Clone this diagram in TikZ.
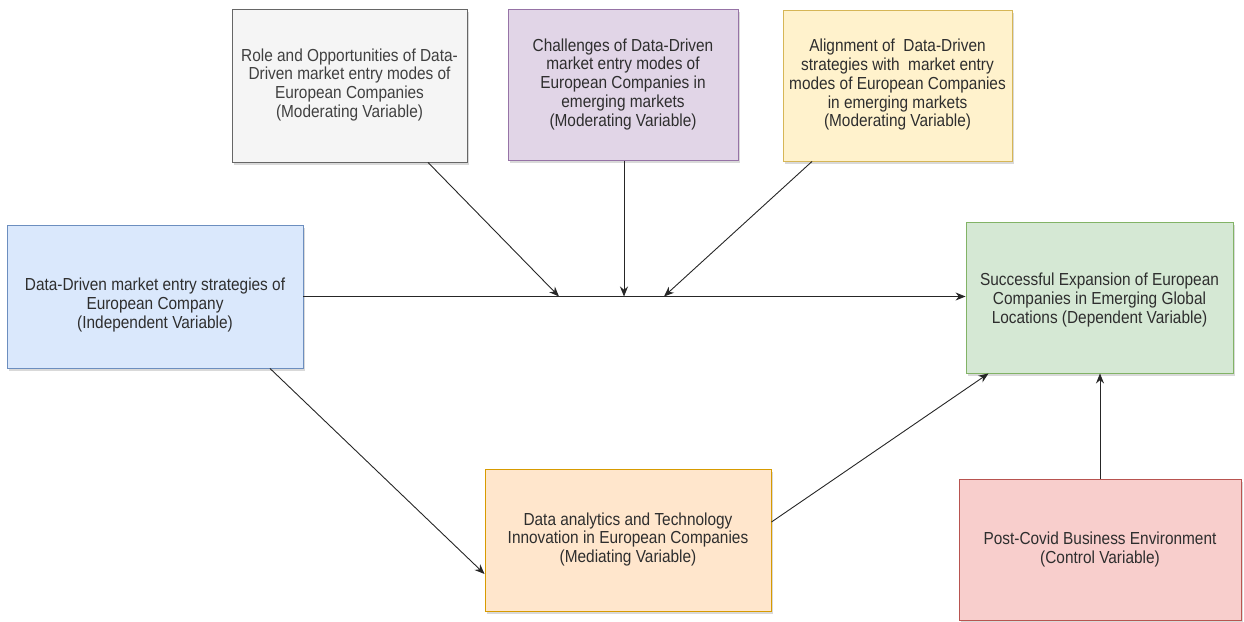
\documentclass[tikz,border=0pt]{standalone}
\usepackage{fontspec}
\setmainfont{Liberation Sans}
\usetikzlibrary{arrows.meta,shadows}

\definecolor{greyfill}{HTML}{F5F5F5}\definecolor{greyline}{HTML}{666666}
\definecolor{purplefill}{HTML}{E1D5E7}\definecolor{purpleline}{HTML}{9673A6}
\definecolor{yellowfill}{HTML}{FFF2CC}\definecolor{yellowline}{HTML}{D6B656}
\definecolor{bluefill}{HTML}{DAE8FC}\definecolor{blueline}{HTML}{6C8EBF}
\definecolor{greenfill}{HTML}{D5E8D4}\definecolor{greenline}{HTML}{82B366}
\definecolor{orangefill}{HTML}{FFE6CC}\definecolor{orangeline}{HTML}{D79B00}
\definecolor{redfill}{HTML}{F8CECC}\definecolor{redline}{HTML}{B85450}
\definecolor{txt}{HTML}{2E2E2E}

% box label: centred lines, set slightly taller than the plain font
\newcommand{\boxtext}[1]{\scalebox{1}[1.13]{\begin{tabular}{@{}c@{}}#1\end{tabular}}}

\tikzset{
  varbox/.style={rectangle, draw, line width=0.9pt, align=center, text=txt,
    font=\fontsize{15.4}{16.6}\selectfont, inner sep=2pt,
    drop shadow={opacity=0.3, shadow xshift=2pt, shadow yshift=-2.5pt}},
  boxlabel/.style={text=txt, font=\fontsize{15.4}{16.6}\selectfont, inner sep=0pt},
  link/.style={draw=black!85, line width=0.9pt, -{Stealth[length=10pt,width=8pt]}}
}

\begin{document}
\begin{tikzpicture}[x=1pt,y=-1pt]
\useasboundingbox (0,0) rectangle (1244,621);

% moderating variables
\node[varbox, fill=greyfill, draw=greyline, text=black!75, minimum width=235pt, minimum height=153pt]
  (role) at (349.5,85.5) {\boxtext{Role and Opportunities of Data-\\Driven market entry modes of\\European Companies\\(Moderating Variable)}};
\node[varbox, fill=purplefill, draw=purpleline, minimum width=230pt, minimum height=151pt]
  (chal) at (623,85) {\boxtext{Challenges of Data-Driven\\market entry modes of\\European Companies in\\emerging markets\\(Moderating Variable)}};
\node[varbox, fill=yellowfill, draw=yellowline, minimum width=229pt, minimum height=151pt]
  (align) at (897.5,85.5) {\boxtext{Alignment of~ Data-Driven\\strategies with~ market entry\\modes of European Companies\\in emerging markets\\(Moderating Variable)}};

% independent variable (its label sits a little below the centre)
\node[varbox, fill=bluefill, draw=blueline, minimum width=296pt, minimum height=143pt]
  (indep) at (155,296.5) {};
\node[boxlabel] (indeptext) at ([yshift=-9pt]indep.center)
  {\boxtext{Data-Driven market entry strategies of\\European Company\\(Independent Variable)}};

% dependent variable
\node[varbox, fill=greenfill, draw=greenline, minimum width=267pt, minimum height=151pt]
  (dep) at (1099.5,297.5) {};
\node[boxlabel] (deptext) at ([yshift=-3pt]dep.center)
  {\boxtext{Successful Expansion of European\\Companies in Emerging Global\\Locations (Dependent Variable)}};

% mediating and control variables
\node[varbox, fill=orangefill, draw=orangeline, minimum width=286pt, minimum height=142pt]
  (med) at (628,540) {\boxtext{Data analytics and Technology\\Innovation in European Companies\\(Mediating Variable)}};
\node[varbox, fill=redfill, draw=redline, minimum width=282pt, minimum height=141pt]
  (ctrl) at (1100,550) {\boxtext{Post-Covid Business Environment\\(Control Variable)}};

% points on the main path where the moderators act
\coordinate (m1) at (559,296.5);
\coordinate (m2) at (624,296.5);
\coordinate (m3) at (664,296.5);

% connectors
\draw[link] (indep.east) -- (indep.east -| dep.west);
\draw[link] ([xshift=78.5pt]role.south) -- (m1);
\draw[link] ([xshift=1pt]chal.south) -- (m2);
\draw[link] ([xshift=-85.5pt]align.south) -- (m3);
\draw[link] ([xshift=115pt]indep.south) -- ([yshift=-34pt]med.west);
\draw[link] ([yshift=18pt]med.east) -- ([xshift=-111pt]dep.south);
\draw[link] (ctrl.north) -- (ctrl.north |- dep.south);
\end{tikzpicture}
\end{document}
